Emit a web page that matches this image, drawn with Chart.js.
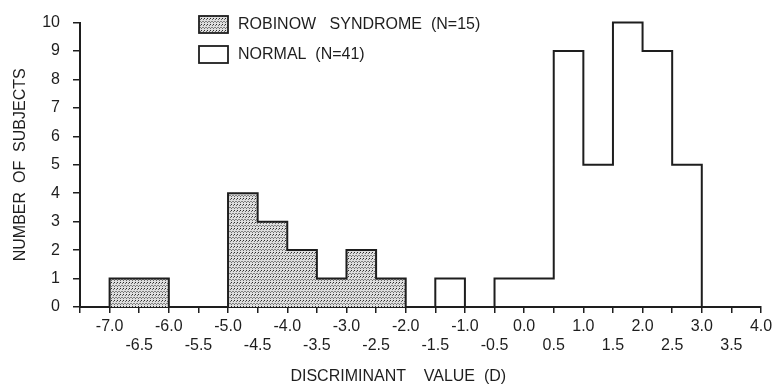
<!DOCTYPE html>
<html>
<head>
<meta charset="utf-8">
<script src="https://cdn.jsdelivr.net/npm/chart.js@4/dist/chart.umd.min.js"></script>
<style>
  html, body { margin: 0; padding: 0; background: #ffffff; }
  #wrap { width: 779px; height: 391px; position: relative; }
</style>
</head>
<body>
<div id="wrap"><canvas id="c" width="779" height="391"></canvas></div>
<script>
// Bin left edges (bin width 0.5)
const binLeft = [-7.5, -7.0, -6.5, -6.0, -5.5, -5.0, -4.5, -4.0, -3.5, -3.0, -2.5, -2.0,
                 -1.5, -1.0, -0.5, 0.0, 0.5, 1.0, 1.5, 2.0, 2.5, 3.0, 3.5];
const binEnd = 4.0;
// Counts per bin
const robinowCounts = [0, 1, 1, 0, 0, 4, 3, 2, 1, 2, 1, 0,
                       0, 0, 0, 0, 0, 0, 0, 0, 0, 0, 0];
const normalCounts  = [0, 0, 0, 0, 0, 0, 0, 0, 0, 0, 0, 0,
                       1, 0, 1, 1, 9, 5, 10, 9, 5, 0, 0];
const seriesLabels = ['ROBINOW   SYNDROME  (N=15)', 'NORMAL  (N=41)'];
const xTickLabels = {
  '-7': ['-7.0', ''], '-6.5': ['', '-6.5'], '-6': ['-6.0', ''], '-5.5': ['', '-5.5'],
  '-5': ['-5.0', ''], '-4.5': ['', '-4.5'], '-4': ['-4.0', ''], '-3.5': ['', '-3.5'],
  '-3': ['-3.0', ''], '-2.5': ['', '-2.5'], '-2': ['-2.0', ''], '-1.5': ['', '-1.5'],
  '-1': ['-1.0', ''], '-0.5': ['', '-0.5'], '0': ['0.0', ''], '0.5': ['', '0.5'],
  '1': ['1.0', ''], '1.5': ['', '1.5'], '2': ['2.0', ''], '2.5': ['', '2.5'],
  '3': ['3.0', ''], '3.5': ['', '3.5'], '4': ['4.0', '']
};
const yTickValues = [0, 1, 2, 3, 4, 5, 6, 7, 8, 9, 10];

// bin i spans binLeft[i] .. next edge at height counts[i]
function stepPoints(counts) {
  const pts = binLeft.map((x, i) => ({ x: x, y: counts[i] }));
  pts.push({ x: binEnd, y: 0 });
  return pts;
}

// stipple pattern
function makeStipple() {
  const p = document.createElement('canvas');
  p.width = 3; p.height = 6;
  const g = p.getContext('2d');
  g.fillStyle = '#dedede';
  g.fillRect(0, 0, 3, 6);
  g.fillStyle = '#2a2a2a';
  g.fillRect(0, 0, 1, 1);
  g.fillRect(1.5, 3, 1, 1);
  g.fillStyle = '#6a6a6a';
  g.fillRect(2, 1, 1, 1);
  g.fillRect(0, 4, 1, 1);
  return document.getElementById('c').getContext('2d').createPattern(p, 'repeat');
}
const stipple = makeStipple();
const INK = '#1e1e1e';
const FONT = "'Liberation Sans', Arial, sans-serif";

const legendPlugin = {
  id: 'customLegend',
  afterDraw(chart) {
    const ctx = chart.ctx;
    const rows = [
      { y: 16, fill: stipple, text: chart.data.datasets[0].label },
      { y: 46, fill: '#ffffff', text: chart.data.datasets[1].label }
    ];
    ctx.save();
    rows.forEach(r => {
      ctx.fillStyle = r.fill;
      ctx.fillRect(199, r.y, 29, 17);
      ctx.strokeStyle = INK;
      ctx.lineWidth = 1.8;
      ctx.strokeRect(199, r.y, 29, 17);
      ctx.fillStyle = INK;
      ctx.font = "16px " + FONT;
      ctx.textBaseline = 'middle';
      ctx.textAlign = 'left';
      ctx.fillText(r.text, 238, r.y + 9);
    });
    ctx.restore();
  }
};

new Chart(document.getElementById('c'), {
  type: 'line',
  data: {
    datasets: [
      {
        label: seriesLabels[0],
        data: stepPoints(robinowCounts),
        stepped: 'before',
        borderColor: INK,
        borderWidth: 2,
        backgroundColor: stipple,
        fill: 'origin',
        pointRadius: 0,
        clip: false
      },
      {
        label: seriesLabels[1],
        data: stepPoints(normalCounts),
        stepped: 'before',
        borderColor: INK,
        borderWidth: 2,
        backgroundColor: 'rgba(0,0,0,0)',
        fill: false,
        pointRadius: 0,
        clip: false
      }
    ]
  },
  options: {
    responsive: false,
    animation: false,
    layout: { padding: { top: 15, right: 18, left: 0, bottom: 0 } },
    plugins: { legend: { display: false }, tooltip: { enabled: false } },
    scales: {
      x: {
        type: 'linear',
        min: -7.5,
        max: 4.0,
        afterBuildTicks(scale) {
          scale.ticks = binLeft.concat([binEnd]).map(v => ({ value: v }));
        },
        afterFit(scale) { scale.height = 84; },
        border: { display: true, color: INK, width: 2 },
        grid: { drawOnChartArea: false, drawTicks: true, tickLength: 6, color: INK, lineWidth: 1.5 },
        ticks: {
          autoSkip: false,
          maxRotation: 0,
          padding: 4,
          color: INK,
          font: { family: FONT, size: 16, lineHeight: 1.2 },
          callback(value) {
            const k = String(Math.round(value * 10) / 10);
            return xTickLabels[k] || '';
          }
        },
        title: {
          display: true,
          text: 'DISCRIMINANT    VALUE  (D)          ',
          color: INK,
          font: { family: FONT, size: 16 },
          padding: { top: 0, bottom: 5 }
        }
      },
      y: {
        min: 0,
        max: 10,
        afterBuildTicks(scale) {
          scale.ticks = yTickValues.map(v => ({ value: v }));
        },
        afterFit(scale) { scale.width = 80; },
        border: { display: true, color: INK, width: 2 },
        grid: { drawOnChartArea: false, drawTicks: true, tickLength: 7, color: INK, lineWidth: 1.5 },
        ticks: {
          padding: 13,
          color: INK,
          font: { family: FONT, size: 16 }
        },
        title: {
          display: true,
          text: 'NUMBER  OF  SUBJECTS',
          color: INK,
          font: { family: FONT, size: 16 },
          padding: { top: 11, bottom: 0 }
        }
      }
    }
  },
  plugins: [legendPlugin]
});
</script>
</body>
</html>
